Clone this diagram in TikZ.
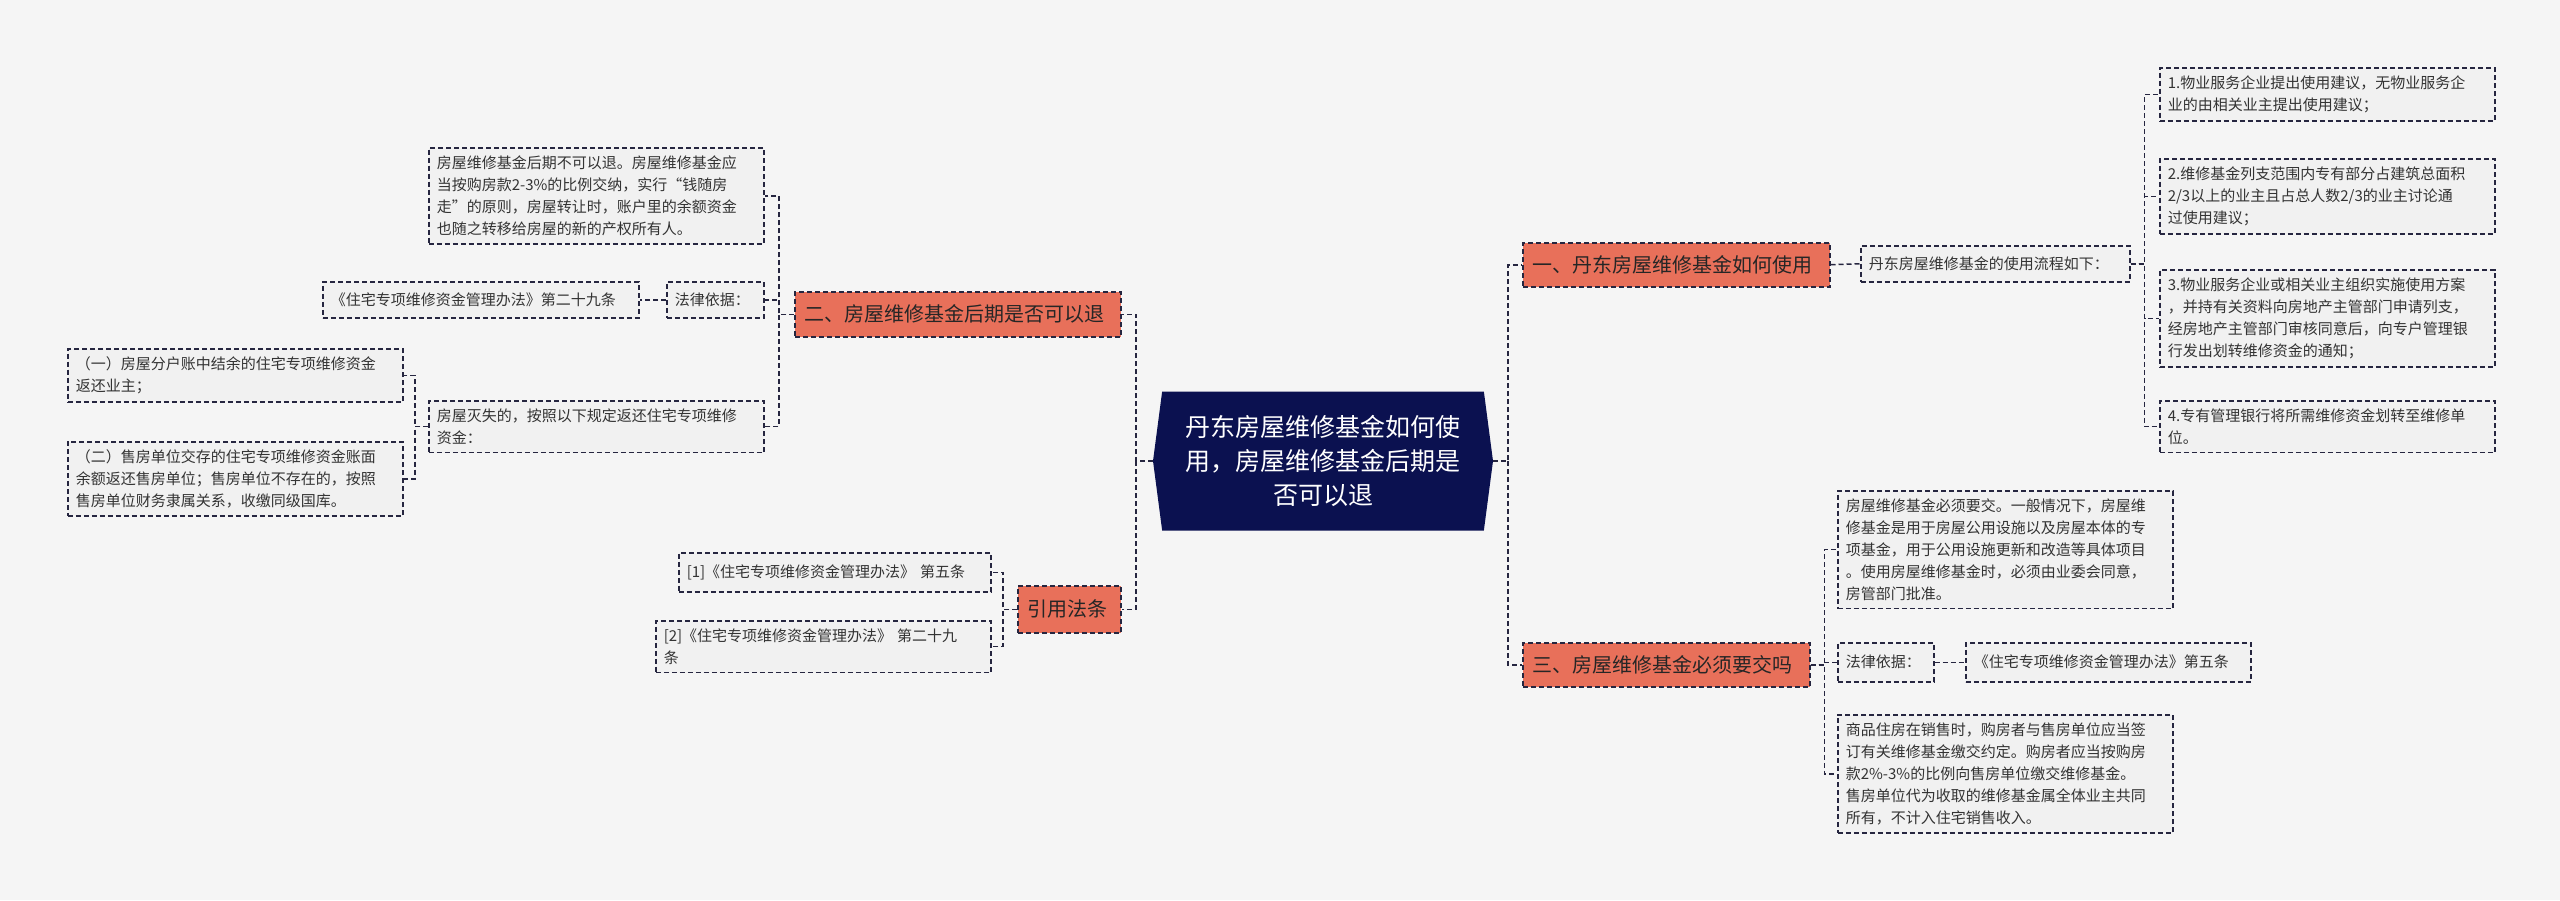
\documentclass[tikz,border=0pt]{standalone}
\usepackage{fontspec}
\setmainfont{Noto Sans CJK SC}
\usetikzlibrary{shapes.symbols}
\definecolor{bg}{HTML}{F5F5F5}
\definecolor{navy}{HTML}{0B1150}
\definecolor{lnc}{HTML}{262640}
\definecolor{orng}{HTML}{E8705A}
\definecolor{bfill}{HTML}{F1F1F1}
\begin{document}
\begin{tikzpicture}[x=1pt,y=-1pt,
  box/.style={draw=lnc,dashed,dash pattern=on 5pt off 3pt,line width=1.5pt,fill=bfill,
    anchor=north west,align=left,inner sep=8pt,font=\fontsize{15}{22}\selectfont,text=black!80},
  br/.style={draw=lnc,dashed,dash pattern=on 5pt off 3pt,line width=1.5pt,fill=orng,
    anchor=north west,align=left,inner sep=0pt,font=\fontsize{20}{24}\selectfont,text=black!85},
  conn/.style={draw=lnc,dashed,dash pattern=on 5pt off 3pt,line width=1.5pt}]
\fill[bg] (0,0) rectangle (2560,900);
\useasboundingbox (0,0) rectangle (2560,900);
% root
\node[signal,signal to=east and west,signal pointer angle=165,fill=navy,text=white,
  minimum width=340pt,minimum height=139pt,align=center,inner sep=4pt,
  font=\fontsize{25}{34}\selectfont] (root) at (1323,461)
  {丹东房屋维修基金如何使\\用，房屋维修基金后期是\\否可以退};
% right branch 1
\node[br,minimum width=307pt,minimum height=44pt,text width=287pt,inner xsep=10pt] (b1) at (1522,242) {一、丹东房屋维修基金如何使用};
\node[box,minimum width=269pt,minimum height=36pt,text width=253pt,inner ysep=6pt] (p1) at (1860,245) {丹东房屋维修基金的使用流程如下：};
\node[box,text width=319pt] (i1) at (2159,67) {1.物业服务企业提出使用建议，无物业服务企\\业的由相关业主提出使用建议；};
\node[box,text width=319pt] (i2) at (2159,158) {2.维修基金列支范围内专有部分占建筑总面积\\2/3以上的业主且占总人数2/3的业主讨论通\\过使用建议；};
\node[box,text width=319pt] (i3) at (2159,269) {3.物业服务企业或相关业主组织实施使用方案\\，并持有关资料向房地产主管部门申请列支，\\经房地产主管部门审核同意后，向专户管理银\\行发出划转维修资金的通知；};
\node[box,text width=319pt] (i4) at (2159,400) {4.专有管理银行将所需维修资金划转至维修单\\位。};
% right branch 3
\node[br,minimum width=287pt,minimum height=44pt,text width=267pt,inner xsep=10pt] (b3) at (1522,642) {三、房屋维修基金必须要交吗};
\node[box,text width=319pt] (t3a) at (1837,490) {房屋维修基金必须要交。一般情况下，房屋维\\修基金是用于房屋公用设施以及房屋本体的专\\项基金，用于公用设施更新和改造等具体项目\\。使用房屋维修基金时，必须由业委会同意，\\房管部门批准。};
\node[box,minimum width=96pt,minimum height=39pt,text width=80pt,inner ysep=6pt] (l3) at (1837,642) {法律依据：};
\node[box,minimum width=285pt,minimum height=39pt,text width=269pt,inner ysep=6pt] (l3b) at (1965,642) {《住宅专项维修资金管理办法》第五条};
\node[box,text width=319pt] (t3b) at (1837,714) {商品住房在销售时，购房者与售房单位应当签\\订有关维修基金缴交约定。购房者应当按购房\\款2\%-3\%的比例向售房单位缴交维修基金。\\售房单位代为收取的维修基金属全体业主共同\\所有，不计入住宅销售收入。};
% left branch 2
\node[br,minimum width=326pt,minimum height=45pt,text width=306pt,inner xsep=10pt] (b2) at (794,291) {二、房屋维修基金后期是否可以退};
\node[box,text width=319pt] (t2a) at (428,147) {房屋维修基金后期不可以退。房屋维修基金应\\当按购房款2-3\%的比例交纳，实行“钱随房\\走”的原则，房屋转让时，账户里的余额资金\\也随之转移给房屋的新的产权所有人。};
\node[box,minimum width=97pt,minimum height=36pt,text width=81pt,inner ysep=6pt] (l2) at (666,281) {法律依据：};
\node[box,minimum width=316pt,minimum height=36pt,text width=300pt,inner ysep=6pt] (l2b) at (322,281) {《住宅专项维修资金管理办法》第二十九条};
\node[box,text width=319pt] (t2b) at (428,400) {房屋灭失的，按照以下规定返还住宅专项维修\\资金：};
\node[box,text width=319pt] (s1) at (67,348) {（一）房屋分户账中结余的住宅专项维修资金\\返还业主；};
\node[box,text width=319pt] (s2) at (67,441) {（二）售房单位交存的住宅专项维修资金账面\\余额返还售房单位；售房单位不存在的，按照\\售房单位财务隶属关系，收缴同级国库。};
% citations
\node[br,minimum width=103pt,minimum height=47pt,text width=83pt,inner xsep=10pt] (b4) at (1017,585) {引用法条};
\node[box,minimum width=312pt,minimum height=39pt,text width=296pt,inner ysep=6pt] (c1) at (678,552) {[1]《住宅专项维修资金管理办法》 第五条};
\node[box,text width=319pt] (c2) at (655,620) {[2]《住宅专项维修资金管理办法》 第二十九\\条};
% connectors
\draw[conn] (root.east) -- ++(15,0) coordinate (rr) |- (b1.west);
\draw[conn] (rr) |- (b3.west);
\draw[conn] (root.west) -- ++(-17,0) coordinate (rl) |- (b2.east);
\draw[conn] (rl) |- (b4.east);
\draw[conn] (b1.east) -- (p1.west);
\foreach \n in {i1,i2,i3,i4} \draw[conn] (p1.east) -- ++(14,0) |- (\n.west);
\foreach \n in {t3a,l3,t3b} \draw[conn] (b3.east) -- ++(14,0) |- (\n.west);
\draw[conn] (l3.east) -- (l3b.west);
\foreach \n in {t2a,l2,t2b} \draw[conn] (b2.west) -- ++(-15,0) |- (\n.east);
\draw[conn] (l2.west) -- (l2b.east);
\foreach \n in {s1,s2} \draw[conn] (t2b.west) -- ++(-13,0) |- (\n.east);
\foreach \n in {c1,c2} \draw[conn] (b4.west) -- ++(-14,0) |- (\n.east);
\end{tikzpicture}
\end{document}
